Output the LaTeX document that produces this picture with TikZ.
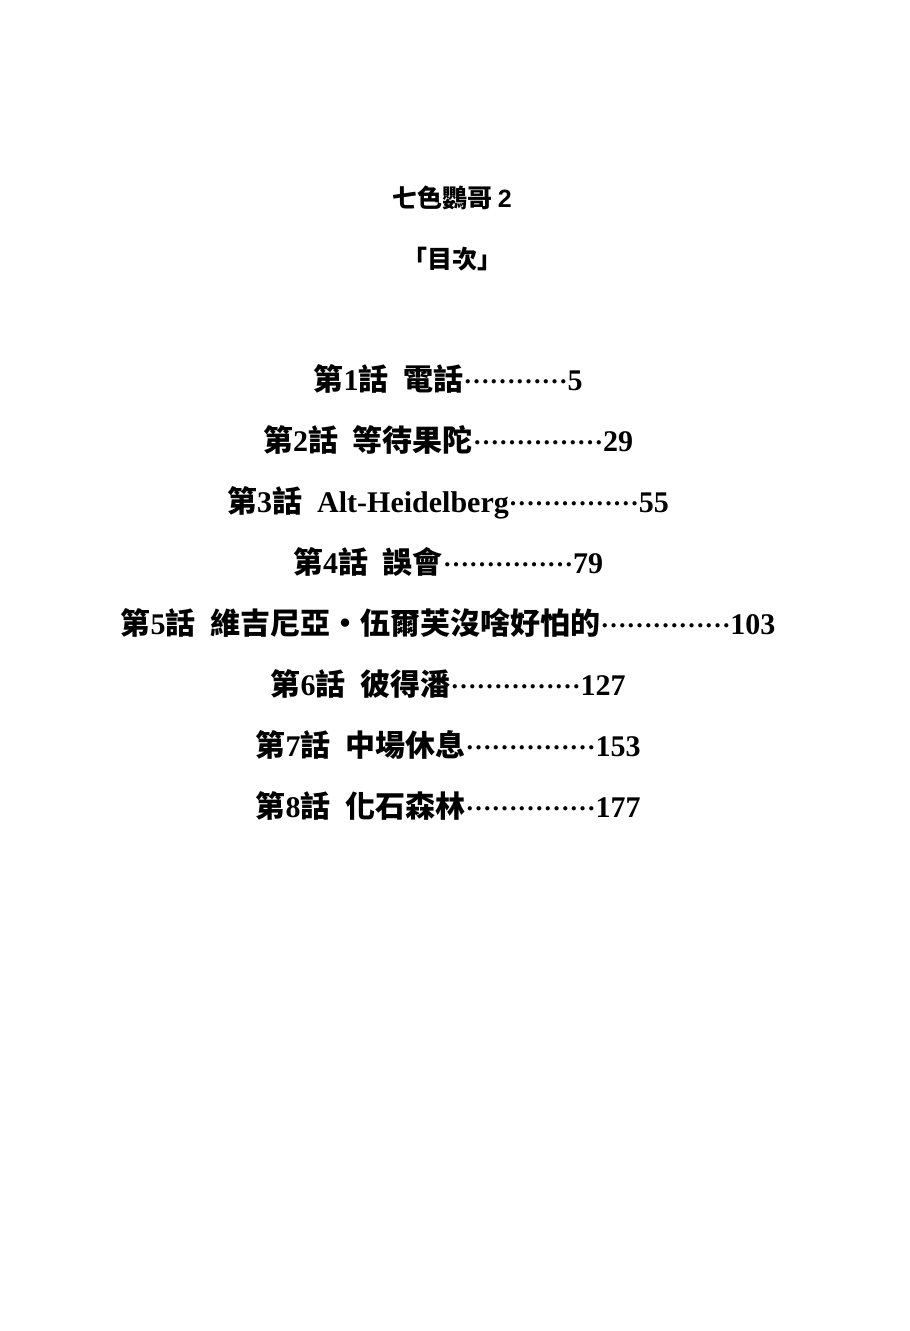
\documentclass[tikz,border=0pt]{standalone}
\usepackage{fontspec}
\setmainfont{Liberation Serif}
\newfontfamily\cjk{Noto Sans CJK TC}
\newcommand{\dotsx}[1]{\raisebox{7pt}{\fontsize{26}{26}\selectfont\foreach \i in {1,...,#1}{…}}}
\begin{document}
\begin{tikzpicture}[x=1pt,y=-1pt,
  toc/.style={anchor=base,font=\fontsize{30}{34}\selectfont\bfseries, inner sep=0pt},
  head/.style={anchor=base,font=\cjk\fontsize{25}{28}\selectfont\bfseries, inner sep=0pt}]
\useasboundingbox[fill=white] (0,0) rectangle (910,1331);
\node[head] (t) at (452,207) {七色鸚哥 {\fontspec{Liberation Sans}\bfseries 2}};
\node[head] (m) at (452,268) {「目次」};
\node[toc] (c1) at (448,390) {{\cjk 第}1{\cjk 話}\ \ {\cjk 電話}\dotsx{4}5};
\node[toc] (c2) at (448,451) {{\cjk 第}2{\cjk 話}\ \ {\cjk 等待果陀}\dotsx{5}29};
\node[toc] (c3) at (448,512) {{\cjk 第}3{\cjk 話}\ \ Alt-Heidelberg\dotsx{5}55};
\node[toc] (c4) at (448,573) {{\cjk 第}4{\cjk 話}\ \ {\cjk 誤會}\dotsx{5}79};
\node[toc] (c5) at (448,634) {{\cjk 第}5{\cjk 話}\ \ {\cjk 維吉尼亞・伍爾芙沒啥好怕的}\dotsx{5}103};
\node[toc] (c6) at (448,695) {{\cjk 第}6{\cjk 話}\ \ {\cjk 彼得潘}\dotsx{5}127};
\node[toc] (c7) at (448,756) {{\cjk 第}7{\cjk 話}\ \ {\cjk 中場休息}\dotsx{5}153};
\node[toc] (c8) at (448,817) {{\cjk 第}8{\cjk 話}\ \ {\cjk 化石森林}\dotsx{5}177};
\end{tikzpicture}
\end{document}
